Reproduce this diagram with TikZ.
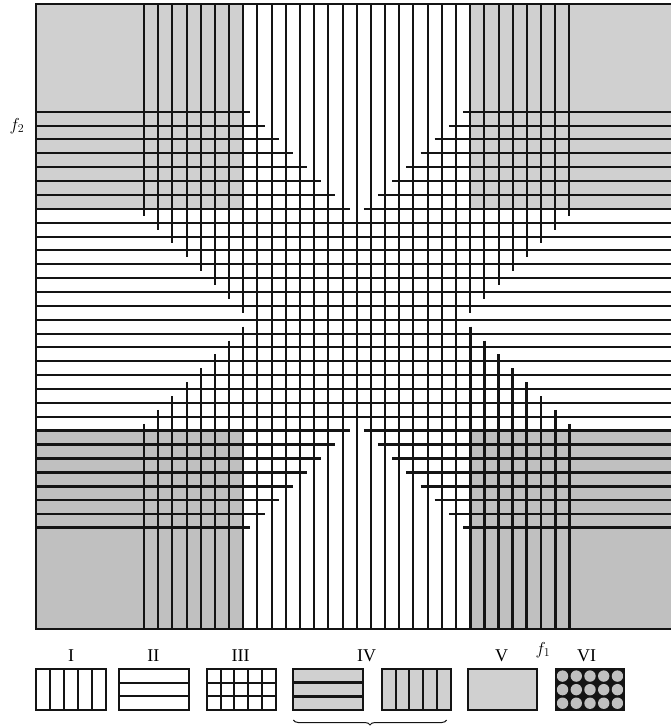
\documentclass[tikz,border=0pt]{standalone}
\usepackage{fontspec}
\setmainfont{Liberation Serif}
\usetikzlibrary{decorations.pathreplacing}
\definecolor{gtop}{RGB}{208,208,208}
\definecolor{gbot}{RGB}{192,192,192}
\definecolor{inkc}{RGB}{20,20,20}
\tikzset{
  gridline/.style={draw=inkc,line width=2pt},
  thickline/.style={draw=inkc,line width=2.8pt},
  frameline/.style={draw=inkc,line width=2.2pt},
  legbox/.style={draw=inkc,line width=2pt},
  lab/.style={font=\fontsize{18}{20}\selectfont,inner sep=0pt},
  flab/.style={font=\fontsize{18}{20}\selectfont,inner sep=0pt}
}
\begin{document}
\begin{tikzpicture}[x=1pt,y=-1pt]
\useasboundingbox (0,0) rectangle (671,728);
% gray regions
\fill[gtop] (36,4) rectangle (243.3,208.8);
\fill[gtop] (470.1,4) rectangle (671,208.8);
\fill[gbot] (36,430.7) rectangle (243.3,629);
\fill[gbot] (470.1,430.7) rectangle (671,629);
% vertical lines
\foreach \k in {0,...,30}{
  \pgfmathsetmacro\xk{144+14.18*\k}
  \pgfmathsetmacro\dd{abs(\k-15)}
  \ifdim\dd pt<7.5pt
    \draw[gridline] (\xk,4) -- (\xk,629);
  \else
    \pgfmathsetmacro\hh{(\dd-7.5)*13.87}
    \draw[gridline] (\xk,4) -- (\xk,319.75-\hh);
    \ifnum\k>15
      \draw[thickline] (\xk,319.75+\hh) -- (\xk,629);
    \else
      \draw[gridline] (\xk,319.75+\hh) -- (\xk,629);
    \fi
  \fi
}
% horizontal lines
\foreach \j in {0,...,30}{
  \pgfmathsetmacro\yj{111.7+13.87*\j}
  \pgfmathsetmacro\dd{abs(\j-15)}
  \ifdim\dd pt<7.5pt
    \draw[gridline] (36,\yj) -- (671,\yj);
  \else
    \pgfmathsetmacro\hh{(\dd-7.5)*14.18}
    \ifnum\j>15
      \draw[thickline] (36,\yj) -- (356.7-\hh,\yj);
      \draw[thickline] (356.7+\hh,\yj) -- (671,\yj);
    \else
      \draw[gridline] (36,\yj) -- (356.7-\hh,\yj);
      \draw[gridline] (356.7+\hh,\yj) -- (671,\yj);
    \fi
  \fi
}
% frame
\draw[frameline] (671,4) -- (36,4) -- (36,629) -- (671,629);
% axis labels
\node[flab] (f2) at (17,126) {$f_2$};
\node[flab] (f1) at (543,650) {$f_1$};
% legend labels
\node[lab] (l1) at (71,656) {I};
\node[lab] (l2) at (153.3,656) {II};
\node[lab] (l3) at (240.7,656) {III};
\node[lab] (l4) at (366.7,656) {IV};
\node[lab] (l5) at (501.7,656) {V};
\node[lab] (l6) at (586.7,656) {VI};
% box I
\draw[legbox] (36,669.3) rectangle (106,710);
\foreach \i in {1,...,4}{\draw[legbox] (36+14*\i,669.3) -- (36+14*\i,710);}
% box II
\draw[legbox] (119.3,669.3) rectangle (189.3,710);
\foreach \i in {1,2}{\draw[legbox] (119.3,669.3+13.57*\i) -- (189.3,669.3+13.57*\i);}
% box III
\draw[legbox] (206.7,669.3) rectangle (276,710);
\foreach \i in {1,...,4}{\draw[legbox] (206.7+13.86*\i,669.3) -- (206.7+13.86*\i,710);}
\foreach \i in {1,2}{\draw[legbox] (206.7,669.3+13.57*\i) -- (276,669.3+13.57*\i);}
% box IV a
\fill[gtop] (293.3,669.3) rectangle (362.7,710);
\foreach \i in {1,2}{\draw[thickline] (293.3,669.3+13.57*\i) -- (362.7,669.3+13.57*\i);}
\draw[legbox] (293.3,669.3) rectangle (362.7,710);
% box IV b
\fill[gtop] (381.7,669.3) rectangle (450.7,710);
\foreach \i in {1,...,4}{\draw[legbox] (381.7+13.8*\i,669.3) -- (381.7+13.8*\i,710);}
\draw[legbox] (381.7,669.3) rectangle (450.7,710);
% box V
\fill[gtop] (467.7,669.3) rectangle (537.3,710);
\draw[legbox] (467.7,669.3) rectangle (537.3,710);
% box VI
\fill[inkc] (555.7,669.3) rectangle (624.3,710);
\foreach \i in {0,...,4}{
  \foreach \r in {0,1,2}{
    \fill[gbot] (555.7+6.86+13.72*\i,669.3+6.78+13.57*\r) circle (5.7);
  }
}
\draw[legbox] (555.7,669.3) rectangle (624.3,710);
% brace
\draw[inkc,line width=1pt,decorate,decoration={brace,mirror,amplitude=5pt}] (293.3,720) -- (446.7,720);
\end{tikzpicture}
\end{document}
